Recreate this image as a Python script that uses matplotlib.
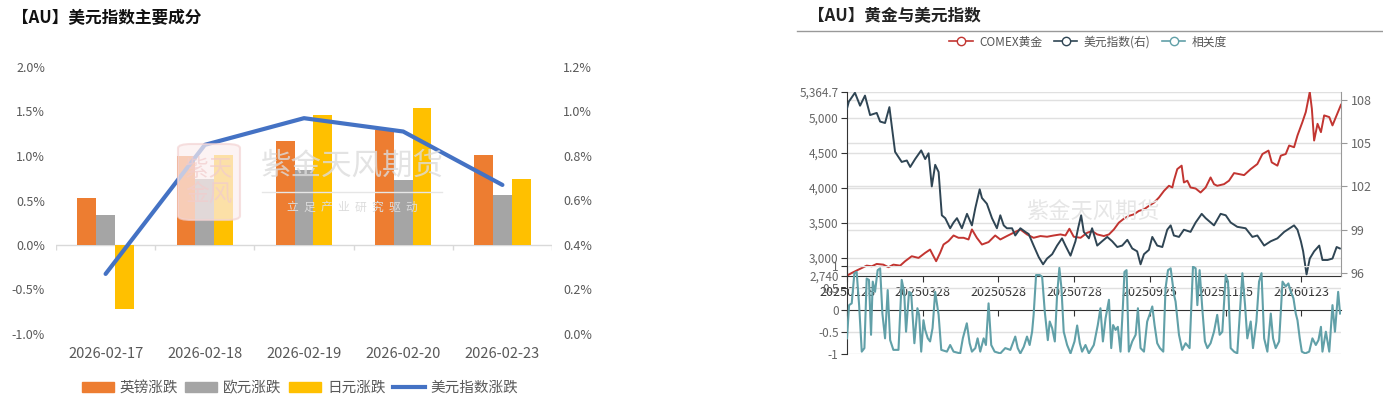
import matplotlib
matplotlib.use('Agg')
import matplotlib.pyplot as plt
from matplotlib.lines import Line2D
from matplotlib.patches import Patch, FancyBboxPatch
from matplotlib.ticker import FuncFormatter
import numpy as np

plt.rcParams['font.family'] = ['Noto Sans CJK SC', 'DejaVu Sans']

# ---------------- left chart data: daily changes (%) ----------------
dates = ['2026-02-17', '2026-02-18', '2026-02-19', '2026-02-20', '2026-02-23']
gbp_chg = [0.53, 1.00, 1.17, 1.29, 1.01]
eur_chg = [0.34, 0.74, 0.84, 0.73, 0.56]
jpy_chg = [-0.72, 1.01, 1.46, 1.54, 0.74]
dxy_chg = [0.27, 0.85, 0.97, 0.91, 0.67]

# ---------------- right chart data (x = trading day index) ----------------
tick_pos = [0, 40, 80, 120, 160, 200, 240]
tick_labels = ['20250128', '20250328', '20250528', '20250728', '20250925', '20251125', '20260123']

gold_x = [0, 2.5, 6, 10.4, 13.1, 15.7, 19.2, 21.9, 24.5, 28.1, 30.7, 34.2, 37.8, 41.3, 43.9,
          45.7, 47.1, 49.2, 51, 53.6, 56.3, 58.9, 61.6, 64.2, 66, 68.6, 71.3, 74.8, 78.3,
          81, 84.5, 88, 91.6, 95.1, 98.6, 102.2, 105.7, 109.2, 112.8, 115.4, 117.5, 119.8,
          123.4, 126.9, 129.5, 132.2, 135.7, 138.4, 141, 143.6, 146.3, 148.9, 151.6, 154.2,
          156.9, 159.5, 162.2, 164.8, 167.5, 170.1, 171.9, 172.7, 174.5, 176.8, 178, 179.8,
          181.5, 184.2, 186.8, 189.5, 192.1, 193.9, 195.6, 199.2, 201.8, 204.5, 207.1, 209.8,
          213.3, 216.8, 219.5, 222.7, 224.4, 227.4, 229.2, 231.8, 233.6, 236.2, 238, 240.6,
          242.4, 244.5, 245.6, 246.8, 248.6, 250.4, 252.1, 254.8, 256.5, 258.3, 261]
gold_v = [2745, 2783, 2830, 2888, 2879, 2912, 2902, 2865, 2902, 2888, 2951, 3022, 2998, 3070, 3117,
          3022, 2951, 3070, 3189, 3238, 3318, 3285, 3285, 3261, 3404, 3285, 3189, 3224, 3318,
          3261, 3310, 3357, 3404, 3333, 3285, 3310, 3300, 3318, 3333, 3318, 3414, 3300,
          3285, 3357, 3381, 3333, 3310, 3333, 3404, 3500, 3558, 3597, 3620, 3668,
          3691, 3740, 3787, 3859, 3955, 4027, 4003, 4099, 4265, 4314, 4074, 4099,
          4003, 3988, 3931, 4003, 4146, 4050, 4027, 4050, 4099, 4208, 4194, 4179,
          4265, 4337, 4480, 4529, 4361, 4314, 4457, 4480, 4601, 4577, 4744, 4935,
          5079, 5364.7, 5126, 4672, 4911, 4792, 5031, 5007, 4888, 5007, 5183]

dxy_x = [0, 1, 1.6, 4.2, 6.9, 9.5, 12.2, 15.7, 17.5, 20.1, 22.4, 23.6, 25.4, 28.9, 31.6, 33.4,
         36, 39.2, 41.3, 43.1, 44.8, 46.6, 48.4, 50.1, 51.9, 54.5, 56.3, 58.1, 60.7, 63.4, 66,
         67.8, 70.1, 71.3, 73.9, 76.6, 79.2, 81, 82.8, 84.5, 87.2, 88.9, 91.6, 94.2, 96, 98.6,
         101.3, 103.6, 105.7, 108.4, 111, 113.6, 115.4, 118.1, 120.7, 122.1, 123.7, 125.1,
         127.8, 129.5, 132.2, 134.8, 137.5, 140.1, 142.8, 145.4, 148.1, 150.7, 153.3, 155.1,
         156.9, 159.5, 161.3, 163.9, 166.6, 169.2, 171, 172.7, 175.4, 178, 181.5, 184.2, 187.4,
         189.5, 193.9, 197.4, 200.1, 202.7, 206.2, 210.6, 214.2, 216.8, 220.4, 223.9, 227.4,
         231, 236.2, 238, 239.8, 241, 242.8, 244.5, 246.8, 249.5, 251.2, 253.9, 256.5, 258.7,
         260.4]
dxy_v = [107.4, 107.9, 108.0, 108.5, 107.6, 108.3, 106.95, 107.1, 106.5, 106.4, 107.5, 106.25,
         104.4, 103.7, 103.8, 103.35, 103.9, 104.5, 103.9, 104.3, 102.0, 103.5, 103.0, 100.0,
         99.8, 99.1, 99.5, 99.8, 99.1, 100.1, 99.3, 100.5, 101.8, 101.2, 100.8, 99.8, 99.1,
         100.0, 99.3, 99.1, 99.1, 98.6, 99.1, 98.85, 98.7, 97.9, 97.1, 96.6, 97.0, 97.3, 97.9,
         98.4, 97.9, 97.2, 98.2, 99.1, 100.0, 98.85, 98.4, 99.1, 97.9, 98.2, 98.5, 98.2, 97.8,
         97.9, 98.3, 97.7, 97.5, 96.6, 97.3, 97.6, 98.5, 97.9, 97.8, 99.0, 99.3, 98.6, 98.5,
         99.0, 98.85, 99.5, 100.1, 99.8, 99.3, 100.1, 100.0, 99.5, 99.2, 99.1, 98.5, 98.6, 97.9,
         98.2, 98.4, 98.85, 99.3, 99.0, 98.2, 97.5, 95.9, 97.0, 97.5, 97.9, 96.9, 96.9, 97.0,
         97.8, 97.7]

corr_x = [0, 1.1, 2.5, 3.9, 5.1, 6.4, 7.8, 9.2, 10.4, 11.6, 12.7, 13.6, 14.8, 16.2, 17.5, 18.7,
          20.1, 21.5, 22.8, 24.5, 27.2, 28.9, 30.2, 31.2, 32.8, 33.9, 35.6, 37.2, 38.1, 39.2,
          40.4, 41.3, 42.7, 43.9, 45.2, 46.6, 48.4, 49.8, 52.8, 54.5, 56.3, 59.8, 61.2, 63.3,
          64.8, 66, 67.8, 69, 70.4, 72.2, 73.4, 74.8, 76.2, 78,
          81, 83.6, 86.3, 88.9, 90.2, 91.6, 93.4, 95.1, 96.5, 97.8, 98.6, 99.9, 101.8, 103.1,
          104.5, 106.1, 107.1, 108.4, 109.8, 111, 112.2, 113.3, 114.5, 116.3, 118.1, 120.2,
          121.6, 123, 124.2, 126, 127.8, 130.4, 132.5, 133.9, 135.2, 136.6, 138.4, 139.6, 140.6,
          141.9, 143.1, 144.5, 145.8, 146.6, 147.7, 148.9, 150.7, 152.5, 153.7, 155.1, 156.9,
          158.6, 160.4, 161.3, 162.5, 163.9, 165.3, 167.1, 168.3, 169.6, 171, 172.8,
          173.6, 175.4, 177.1, 178.9, 181, 182.8, 184.2, 185.1, 186.3, 187.7, 189.1, 190.4,
          192.1, 193.9, 195.6, 196.9, 198.3, 200.1, 201.3, 202.7, 204.5, 206.2, 207.5, 208.9,
          210.3, 211.5, 213.3, 214.5, 216.3, 217.7, 219, 220.4, 222.1, 223.9, 225.1, 226.5,
          228.3, 230.1, 231.8, 233.2, 234.5, 235.9, 237.1, 238, 239.2, 240.3, 242.1, 244.2,
          245.9, 247.7, 249.1, 250.4, 251.2, 253, 254.8, 256.5, 257.8, 258.8, 259.5, 260.5]
corr_v = [-0.64, 0.11, 0.15, 0.83, 0.86, 0.11, -0.94, -0.86, 0.71, 0.68, -0.56, 0.64, 0.41, 0.90,
          0.94, -0.08, -0.64, 0.45, -0.68, -0.90, -0.90, 0.68, 0.41, -0.49, 0.41, 0.38, -0.75,
          0.04, -0.11, -0.94, -0.23, -0.45, -0.64, -0.71, -0.41, 0.41, -0.11, -0.90, -0.94,
          -0.79, -0.94, -0.98, -0.64, -0.30, -0.75, -0.94, -0.86, -0.64, -0.94, -0.64, -0.79,
          0.15, -0.79, -0.94,
          -0.98, -0.86, -0.90, -0.60, -0.86, -0.98, -0.83, -0.60, -0.79, -0.49, -0.11, 0.79,
          0.79, 0.75, -0.04, -0.68, -0.26, -0.41, -0.71, 0.34, 0.95, 0.49, -0.49, -0.79, -0.98,
          -0.71, -0.35, -0.75, -0.94, -0.79, -0.98, -0.79, -0.34, 0.04, -0.71, -0.19, 0.23,
          -0.86, -0.34, -0.45, -0.38, -0.94, 0.11, 0.86, 0.90, -0.94, -0.71, -0.56, 0.04, -0.86,
          -0.94, -0.26, -0.04, 0.08, -0.34, -0.75, -0.86, -0.94, 0.49, 0.90, 0.94, 0.34,
          0.19, -0.56, -0.90, -0.75, -0.86, 0.98, 0.94, 0.11, 0.90, 0.04, -0.71, -0.86, -0.75,
          -0.49, -0.11, -0.56, -0.49, 0.79, 0.64, -0.86, -0.94, -0.98, -0.11, 0.83, 0.11, -0.64,
          -0.26, -0.86, -0.26, 0.64, 0.83, -0.64, -0.94, -0.08, -0.64, -0.86, -0.71, 0.64, 0.53,
          0.60, 0.41, 0.26, -0.08, -0.23, -0.64, -0.94, -0.98, -0.94, -0.64, -0.79, -0.68, -0.38,
          -0.94, -0.49, -0.94, 0.11, -0.49, 0.04, 0.41, -0.08]

W, H = 1383, 413
fig = plt.figure(figsize=(W / 100, H / 100), dpi=100)


def box(l, t, r, b):
    # pixel box -> figure fraction rect
    return [l / W, 1 - b / H, (r - l) / W, (b - t) / H]


# ====================== left chart ======================
fig.text(12 / W, 1 - 18 / H, '【AU】美元指数主要成分', fontsize=12, fontweight='bold',
         color='#111111', va='center', ha='left')

ax = fig.add_axes(box(56, 67, 552, 334))
x = np.arange(len(dates))
bw = 0.19
ax.bar(x - bw, gbp_chg, bw, color='#ED7D31', zorder=3)
ax.bar(x, eur_chg, bw, color='#A5A5A5', zorder=3)
ax.bar(x + bw, jpy_chg, bw, color='#FFC000', zorder=3)
ax.set_xlim(-0.5, len(dates) - 0.5)
ax.set_ylim(-1.0, 2.0)
ax.set_yticks(np.arange(-1.0, 2.01, 0.5))
ax.yaxis.set_major_formatter(FuncFormatter(lambda v, p: f'{v:.1f}%'))
for s in ax.spines.values():
    s.set_visible(False)
ax.axhline(0, color='#d9d9d9', lw=1, zorder=2)
ax.vlines(np.arange(-0.5, len(dates), 1), -0.06, 0, color='#d9d9d9', lw=1, zorder=2)
ax.set_xticks(x)
ax.set_xticklabels(dates)
ax.tick_params(axis='x', length=0, pad=9, labelsize=10.5, colors='#595959')
ax.tick_params(axis='y', length=0, pad=8, labelsize=9, colors='#595959')

axr = ax.twinx()
axr.plot(x, dxy_chg, color='#4472C4', lw=3, solid_capstyle='round', zorder=4)
axr.set_ylim(0, 1.2)
axr.set_yticks(np.arange(0, 1.21, 0.2))
axr.yaxis.set_major_formatter(FuncFormatter(lambda v, p: f'{v:.1f}%'))
for s in axr.spines.values():
    s.set_visible(False)
axr.tick_params(axis='y', length=0, pad=8, labelsize=9, colors='#595959')

# watermark
fig.patches.append(FancyBboxPatch((178 / W, 1 - 220 / H), 62 / W, 76 / H,
                                  boxstyle='round,pad=0,rounding_size=0.01',
                                  transform=fig.transFigure, facecolor='#fcefef',
                                  edgecolor='#f3d3d3', lw=1.5, alpha=0.7, zorder=0))
fig.text(209 / W, 1 - 182 / H, '紫天\n金风', fontsize=17, color='#f2cccc', ha='center',
         va='center', linespacing=1.1, alpha=0.7)
fig.text(352 / W, 1 - 166 / H, '紫金天风期货', fontsize=22, color='#dcdcdc', ha='center',
         va='center', alpha=0.8)
fig.add_artist(Line2D([262 / W, 442 / W], [1 - 192 / H, 1 - 192 / H], color='#e6e6e6', lw=1))
fig.text(352 / W, 1 - 207 / H, '立  足  产  业  研  究  驱  动', fontsize=8.5, color='#dcdcdc',
         ha='center', va='center')

handles = [Patch(color='#ED7D31'), Patch(color='#A5A5A5'), Patch(color='#FFC000'),
           Line2D([], [], color='#4472C4', lw=3)]
fig.legend(handles, ['英镑涨跌', '欧元涨跌', '日元涨跌', '美元指数涨跌'], ncol=4,
           loc='center', bbox_to_anchor=(300 / W, 1 - 388 / H), frameon=False,
           fontsize=10.5, labelcolor='#595959', handlelength=2.2, handleheight=0.6,
           handletextpad=0.4, columnspacing=0.5)

# ====================== right chart ======================
fig.text(808 / W, 1 - 16 / H, '【AU】黄金与美元指数', fontsize=12, fontweight='bold',
         color='#222222', va='center', ha='left')
fig.add_artist(Line2D([797 / W, 1383 / W], [1 - 31 / H, 1 - 31 / H], color='#999999', lw=1))

gmin, gmax = 2740, 5364.7
dmin, dmax = 95.79, 108.55
axT = fig.add_axes(box(847, 92, 1341, 276))
axT.set_xlim(0, 261)
axT.set_ylim(gmin, gmax)
gticks = [2740, 3000, 3500, 4000, 4500, 5000, 5364.7]
dticks = [96, 99, 102, 105, 108]
for g in gticks[1:]:
    axT.axhline(g, color='#e0e0e0', lw=1, zorder=0)
for d in dticks:
    axT.axhline(gmin + (d - dmin) / (dmax - dmin) * (gmax - gmin), color='#e0e0e0', lw=1, zorder=0)
axT.plot(gold_x, gold_v, color='#c23531', lw=1.4, zorder=3)
axT.set_yticks(gticks)
axT.set_yticklabels(['2,740', '3,000', '3,500', '4,000', '4,500', '5,000', '5,364.7'])
axT.set_xticks(tick_pos)
axT.set_xticklabels(tick_labels)
for s in ['top', 'right']:
    axT.spines[s].set_visible(False)
axT.spines['left'].set_color('#333333')
axT.spines['bottom'].set_color('#333333')
axT.tick_params(axis='y', length=4, pad=2, labelsize=8.5, colors='#333333', labelcolor='#666666')
axT.tick_params(axis='x', length=4, pad=3, labelsize=9, colors='#333333', labelcolor='#333333')

ax2 = axT.twinx()
ax2.plot(dxy_x, dxy_v, color='#2f4554', lw=1.4, zorder=3)
ax2.set_ylim(dmin, dmax)
ax2.set_yticks(dticks)
for s in ['top', 'left', 'bottom']:
    ax2.spines[s].set_visible(False)
ax2.spines['right'].set_color('#999999')
ax2.tick_params(axis='y', length=4, pad=3, labelsize=9, colors='#999999', labelcolor='#666666')

fig.text(1093 / W, 1 - 212 / H, '紫金天风期货', fontsize=16, color='#e6e6e6', ha='center',
         va='center', zorder=5)

axB = fig.add_axes(box(847, 265.7, 1341, 354.3))
axB.patch.set_alpha(0)
axB.set_xlim(0, 261)
axB.set_ylim(-1, 1)
for yv in [1, 0.5, -0.5, -1]:
    axB.axhline(yv, color='#e0e0e0', lw=1, zorder=0)
axB.plot(corr_x, corr_v, color='#61a0a8', lw=1.5, zorder=3)
axB.set_yticks([-1, -0.5, 0, 0.5, 1])
axB.set_yticklabels(['-1', '-0.5', '0', '0.5', '1'])
axB.set_xticks(tick_pos)
axB.set_xticklabels([])
for s in ['top', 'right']:
    axB.spines[s].set_visible(False)
axB.spines['bottom'].set_position(('data', 0))
axB.spines['bottom'].set_color('#333333')
axB.spines['left'].set_color('#333333')
axB.tick_params(axis='y', length=4, pad=2, labelsize=8.5, colors='#333333', labelcolor='#666666')
axB.tick_params(axis='x', length=4, colors='#333333')

rh = [Line2D([], [], color=c, lw=1.2, marker='o', markersize=6, markerfacecolor='white',
             markeredgecolor=c) for c in ['#c23531', '#2f4554', '#61a0a8']]
fig.legend(rh, ['COMEX黄金', '美元指数(右)', '相关度'], ncol=3, loc='center',
           bbox_to_anchor=(1088 / W, 1 - 42 / H), frameon=False, fontsize=8.5,
           labelcolor='#555555', handlelength=2.0, handletextpad=0.5, columnspacing=1.0)

fig.savefig('out.png', dpi=100)
